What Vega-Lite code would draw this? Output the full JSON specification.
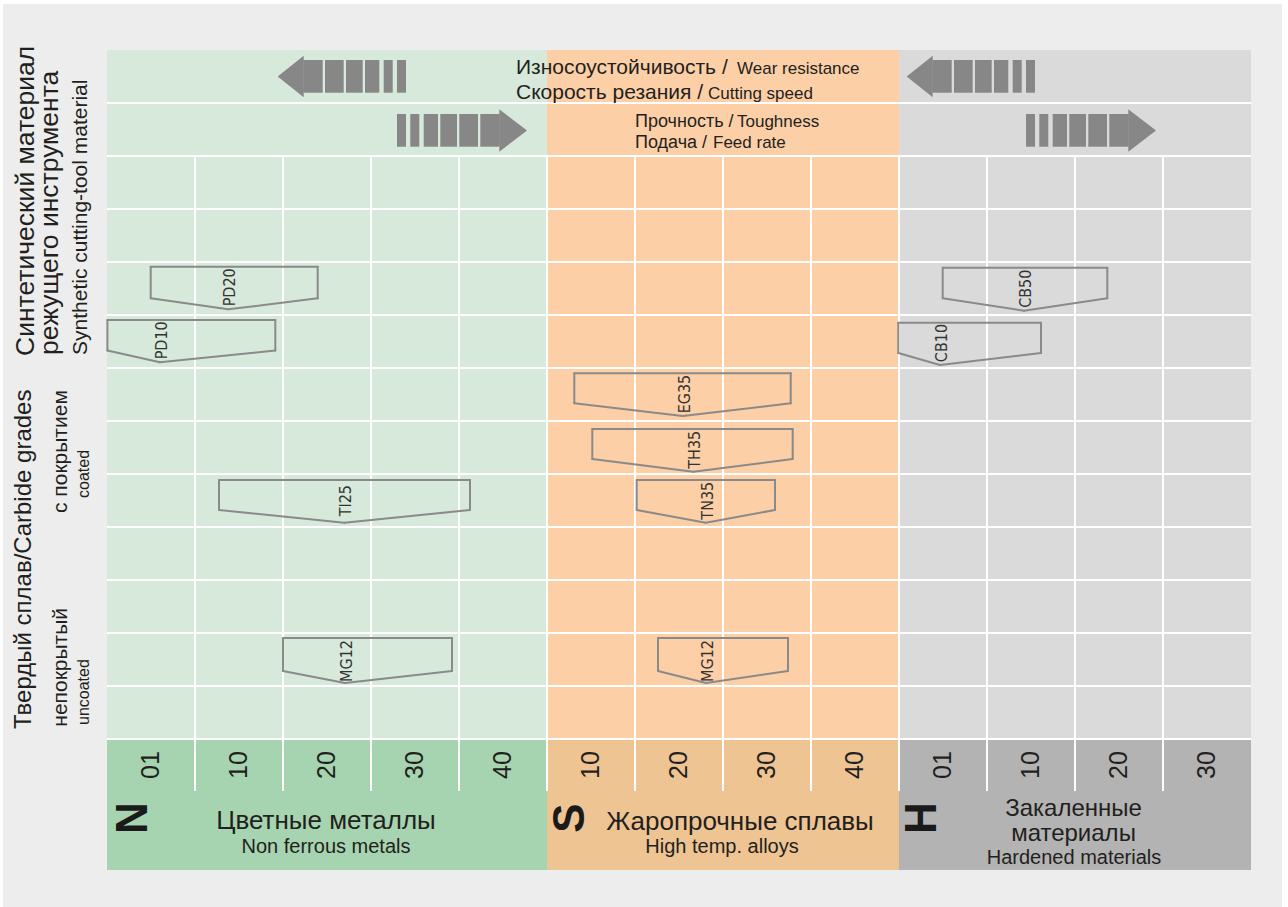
{
  "$schema": "https://vega.github.io/schema/vega-lite/v6.json",
  "width": 1288,
  "height": 907,
  "autosize": {"type": "none"},
  "padding": 0,
  "background": "#ffffff",
  "config": {"view": {"stroke": null}},
  "datasets": {
    "zones": [
      {"zone": "N area", "x": 0, "x2": 5, "y": 0, "y2": 13},
      {"zone": "S area", "x": 5, "x2": 9, "y": 0, "y2": 13},
      {"zone": "H area", "x": 9, "x2": 13, "y": 0, "y2": 13},
      {"zone": "N band", "x": 0, "x2": 5, "y": 13, "y2": 15.4717},
      {"zone": "S band", "x": 5, "x2": 9, "y": 13, "y2": 15.4717},
      {"zone": "H band", "x": 9, "x2": 13, "y": 13, "y2": 15.4717}
    ],
    "hlines": [{"v": 1}, {"v": 2}, {"v": 3}, {"v": 4}, {"v": 5}, {"v": 6}, {"v": 7}, {"v": 8}, {"v": 9}, {"v": 10}, {"v": 11}, {"v": 12}, {"v": 13}],
    "vlines": [{"u": 1}, {"u": 2}, {"u": 3}, {"u": 4}, {"u": 5}, {"u": 6}, {"u": 7}, {"u": 8}, {"u": 9}, {"u": 10}, {"u": 11}, {"u": 12}],
    "arrowBars": [
      {"arrow": "NL", "x": 2.2302, "x2": 2.4511, "y": 0.1887, "y2": 0.8057},
      {"arrow": "NL", "x": 2.4773, "x2": 2.6898, "y": 0.1887, "y2": 0.8057},
      {"arrow": "NL", "x": 2.7159, "x2": 2.9057, "y": 0.1887, "y2": 0.8057},
      {"arrow": "NL", "x": 2.9318, "x2": 3.0943, "y": 0.1887, "y2": 0.8057},
      {"arrow": "NL", "x": 3.1443, "x2": 3.2466, "y": 0.1887, "y2": 0.8057},
      {"arrow": "NL", "x": 3.2955, "x2": 3.3977, "y": 0.1887, "y2": 0.8057},
      {"arrow": "HL", "x": 9.378, "x2": 9.5989, "y": 0.1887, "y2": 0.8057},
      {"arrow": "HL", "x": 9.625, "x2": 9.8375, "y": 0.1887, "y2": 0.8057},
      {"arrow": "HL", "x": 9.8636, "x2": 10.0534, "y": 0.1887, "y2": 0.8057},
      {"arrow": "HL", "x": 10.0795, "x2": 10.242, "y": 0.1887, "y2": 0.8057},
      {"arrow": "HL", "x": 10.292, "x2": 10.3943, "y": 0.1887, "y2": 0.8057},
      {"arrow": "HL", "x": 10.4432, "x2": 10.5455, "y": 0.1887, "y2": 0.8057},
      {"arrow": "NR", "x": 3.2955, "x2": 3.3977, "y": 1.208, "y2": 1.825},
      {"arrow": "NR", "x": 3.4466, "x2": 3.5489, "y": 1.208, "y2": 1.825},
      {"arrow": "NR", "x": 3.5989, "x2": 3.7614, "y": 1.208, "y2": 1.825},
      {"arrow": "NR", "x": 3.7875, "x2": 3.9773, "y": 1.208, "y2": 1.825},
      {"arrow": "NR", "x": 4.0034, "x2": 4.2159, "y": 1.208, "y2": 1.825},
      {"arrow": "NR", "x": 4.2421, "x2": 4.463, "y": 1.208, "y2": 1.825},
      {"arrow": "HR", "x": 10.4432, "x2": 10.5455, "y": 1.208, "y2": 1.825},
      {"arrow": "HR", "x": 10.5943, "x2": 10.6966, "y": 1.208, "y2": 1.825},
      {"arrow": "HR", "x": 10.7466, "x2": 10.9091, "y": 1.208, "y2": 1.825},
      {"arrow": "HR", "x": 10.9352, "x2": 11.125, "y": 1.208, "y2": 1.825},
      {"arrow": "HR", "x": 11.1511, "x2": 11.3636, "y": 1.208, "y2": 1.825},
      {"arrow": "HR", "x": 11.3898, "x2": 11.6107, "y": 1.208, "y2": 1.825}
    ],
    "arrowHeads": [
      {"arrow": "NL", "x": 1.9398, "y": 0.5, "y2": 0.5},
      {"arrow": "NL", "x": 2.2352, "y": 0.1075, "y2": 0.8925},
      {"arrow": "HL", "x": 9.0875, "y": 0.5, "y2": 0.5},
      {"arrow": "HL", "x": 9.383, "y": 0.1075, "y2": 0.8925},
      {"arrow": "NR", "x": 4.458, "y": 1.119, "y2": 1.919},
      {"arrow": "NR", "x": 4.7728, "y": 1.519, "y2": 1.519},
      {"arrow": "HR", "x": 11.6057, "y": 1.119, "y2": 1.919},
      {"arrow": "HR", "x": 11.9205, "y": 1.519, "y2": 1.519}
    ],
    "grades": [
      {"grade": "PD20", "x1": 0.4966, "x2": 2.3943, "xp": 1.3784, "top": 4.0887, "shoulder": 4.6849, "tip": 4.8925},
      {"grade": "PD10", "x1": 0.0045, "x2": 1.9125, "xp": 0.6023, "top": 5.0943, "shoulder": 5.6698, "tip": 5.8925},
      {"grade": "CB50", "x1": 9.4966, "x2": 11.367, "xp": 10.4205, "top": 4.1075, "shoulder": 4.6849, "tip": 4.9189},
      {"grade": "CB10", "x1": 8.992, "x2": 10.6136, "xp": 9.4659, "top": 5.1453, "shoulder": 5.717, "tip": 5.9434},
      {"grade": "EG35", "x1": 5.3102, "x2": 7.7693, "xp": 6.542, "top": 6.1, "shoulder": 6.666, "tip": 6.9057},
      {"grade": "TH35", "x1": 5.5148, "x2": 7.792, "xp": 6.6625, "top": 7.1509, "shoulder": 7.717, "tip": 7.9566},
      {"grade": "TN35", "x1": 6.0193, "x2": 7.5909, "xp": 6.8034, "top": 8.1132, "shoulder": 8.6792, "tip": 8.9189},
      {"grade": "TI25", "x1": 1.2727, "x2": 4.125, "xp": 2.6966, "top": 8.1132, "shoulder": 8.6792, "tip": 8.9189},
      {"grade": "MG12", "x1": 2.0, "x2": 3.9205, "xp": 2.7045, "top": 11.0943, "shoulder": 11.717, "tip": 11.9434},
      {"grade": "MG12", "x1": 6.2614, "x2": 7.7386, "xp": 6.8068, "top": 11.0943, "shoulder": 11.717, "tip": 11.9434}
    ],
    "texts": [
      {"role": "leftBig", "t": "Синтетический материал", "x": -0.8295, "y": 5.7736},
      {"role": "leftBig", "t": "режущего инструмента", "x": -0.5568, "y": 5.7547},
      {"role": "leftCarb", "t": "Твердый сплав/Carbide grades", "x": -0.8636, "y": 12.8113},
      {"role": "leftMid", "t": "Synthetic cutting-tool material", "x": -0.2273, "y": 5.7547},
      {"role": "leftMid", "t": "с покрытием", "x": -0.4545, "y": 8.7358},
      {"role": "leftMid", "t": "непокрытый", "x": -0.4545, "y": 12.7679},
      {"role": "leftSmall", "t": "coated", "x": -0.2045, "y": 8.4528},
      {"role": "leftSmall", "t": "uncoated", "x": -0.2045, "y": 12.7358},
      {"role": "topBig", "t": "Износоустойчивость /", "x": 4.6477, "y": 0.4528},
      {"role": "topBig", "t": "Скорость резания /", "x": 4.6477, "y": 0.9245},
      {"role": "topMid", "t": "Прочность /", "x": 6.0, "y": 1.4528},
      {"role": "topMid", "t": "Подача /", "x": 6.0, "y": 1.8491},
      {"role": "topEn", "t": "Wear resistance", "x": 7.1591, "y": 0.4528},
      {"role": "topEn", "t": "Cutting speed", "x": 6.8295, "y": 0.9245},
      {"role": "topEn", "t": "Toughness", "x": 7.1591, "y": 1.4528},
      {"role": "topEn", "t": "Feed rate", "x": 6.8864, "y": 1.8491},
      {"role": "tick", "t": "01", "x": 0.5, "y": 13.49},
      {"role": "tick", "t": "10", "x": 1.5, "y": 13.49},
      {"role": "tick", "t": "20", "x": 2.5, "y": 13.49},
      {"role": "tick", "t": "30", "x": 3.5, "y": 13.49},
      {"role": "tick", "t": "40", "x": 4.5, "y": 13.49},
      {"role": "tick", "t": "10", "x": 5.5, "y": 13.49},
      {"role": "tick", "t": "20", "x": 6.5, "y": 13.49},
      {"role": "tick", "t": "30", "x": 7.5, "y": 13.49},
      {"role": "tick", "t": "40", "x": 8.5, "y": 13.49},
      {"role": "tick", "t": "01", "x": 9.5, "y": 13.49},
      {"role": "tick", "t": "10", "x": 10.5, "y": 13.49},
      {"role": "tick", "t": "20", "x": 11.5, "y": 13.49},
      {"role": "tick", "t": "30", "x": 12.5, "y": 13.49},
      {"role": "letter", "t": "N", "x": 0.3125, "y": 14.4906},
      {"role": "letter", "t": "S", "x": 5.2761, "y": 14.4906},
      {"role": "letter", "t": "H", "x": 9.2727, "y": 14.4906},
      {"role": "groupRu", "t": "Цветные металлы", "x": 2.4886, "y": 14.6981},
      {"role": "groupRu", "t": "Жаропрочные сплавы", "x": 7.1932, "y": 14.717},
      {"role": "groupRuH", "t": "Закаленные", "x": 10.983, "y": 14.4528},
      {"role": "groupRuH", "t": "материалы", "x": 10.983, "y": 14.9245},
      {"role": "groupEn", "t": "Non ferrous metals", "x": 2.4886, "y": 15.1453},
      {"role": "groupEn", "t": "High temp. alloys", "x": 6.9886, "y": 15.151},
      {"role": "groupEn", "t": "Hardened materials", "x": 10.9886, "y": 15.3585}
    ]
  },
  "layer": [
    {
      "data": {"values": [{"x": -1.1818, "x2": 13.3523, "y": -0.8679, "y2": 16.1698}]},
      "mark": {"type": "rect", "color": "#ededed"},
      "encoding": {
        "x": {"field": "x", "type": "quantitative", "scale": {"domain": [-1.215909, 13.420455], "nice": false, "zero": false}, "axis": null},
        "x2": {"field": "x2"},
        "y": {"field": "y", "type": "quantitative", "scale": {"domain": [-0.943396, 16.169811], "nice": false, "zero": false, "reverse": true}, "axis": null},
        "y2": {"field": "y2"}
      }
    },
    {
      "data": {"name": "zones"},
      "mark": {"type": "rect"},
      "encoding": {
        "x": {"field": "x", "type": "quantitative", "scale": {"domain": [-1.215909, 13.420455], "nice": false, "zero": false}, "axis": null},
        "x2": {"field": "x2"},
        "y": {"field": "y", "type": "quantitative", "scale": {"domain": [-0.943396, 16.169811], "nice": false, "zero": false, "reverse": true}, "axis": null},
        "y2": {"field": "y2"},
        "color": {"field": "zone", "type": "nominal", "legend": null, "scale": {"domain": ["N area", "S area", "H area", "N band", "S band", "H band"], "range": ["#d7e9da", "#fccfa7", "#dadada", "#a6d4b0", "#eec492", "#b3b3b3"]}}
      }
    },
    {
      "data": {"name": "hlines"},
      "mark": {"type": "rule", "color": "#ffffff", "strokeWidth": 2},
      "encoding": {
        "x": {"datum": 0, "type": "quantitative", "scale": {"domain": [-1.215909, 13.420455], "nice": false, "zero": false}, "axis": null},
        "x2": {"datum": 13},
        "y": {"field": "v", "type": "quantitative", "scale": {"domain": [-0.943396, 16.169811], "nice": false, "zero": false, "reverse": true}, "axis": null}
      }
    },
    {
      "data": {"name": "vlines"},
      "mark": {"type": "rule", "color": "#ffffff", "strokeWidth": 2},
      "encoding": {
        "x": {"field": "u", "type": "quantitative", "scale": {"domain": [-1.215909, 13.420455], "nice": false, "zero": false}, "axis": null},
        "y": {"datum": 2, "type": "quantitative", "scale": {"domain": [-0.943396, 16.169811], "nice": false, "zero": false, "reverse": true}, "axis": null},
        "y2": {"datum": 13.98}
      }
    },
    {
      "data": {"name": "arrowBars"},
      "mark": {"type": "rect", "color": "#878787"},
      "encoding": {
        "x": {"field": "x", "type": "quantitative", "scale": {"domain": [-1.215909, 13.420455], "nice": false, "zero": false}, "axis": null},
        "x2": {"field": "x2"},
        "y": {"field": "y", "type": "quantitative", "scale": {"domain": [-0.943396, 16.169811], "nice": false, "zero": false, "reverse": true}, "axis": null},
        "y2": {"field": "y2"}
      }
    },
    {
      "data": {"name": "arrowHeads"},
      "mark": {"type": "area", "color": "#878787", "orient": "vertical"},
      "encoding": {
        "x": {"field": "x", "type": "quantitative", "scale": {"domain": [-1.215909, 13.420455], "nice": false, "zero": false}, "axis": null},
        "y": {"field": "y", "type": "quantitative", "scale": {"domain": [-0.943396, 16.169811], "nice": false, "zero": false, "reverse": true}, "axis": null},
        "y2": {"field": "y2"},
        "detail": {"field": "arrow", "type": "nominal"}
      }
    },
    {
      "data": {"name": "grades"},
      "mark": {"type": "rule", "color": "#8a8a8a", "strokeWidth": 2, "strokeCap": "round"},
      "encoding": {
        "x": {"field": "x1", "type": "quantitative", "scale": {"domain": [-1.215909, 13.420455], "nice": false, "zero": false}, "axis": null},
        "x2": {"field": "x2"},
        "y": {"field": "top", "type": "quantitative", "scale": {"domain": [-0.943396, 16.169811], "nice": false, "zero": false, "reverse": true}, "axis": null},
        "y2": {"field": "top"}
      }
    },
    {
      "data": {"name": "grades"},
      "mark": {"type": "rule", "color": "#8a8a8a", "strokeWidth": 2, "strokeCap": "round"},
      "encoding": {
        "x": {"field": "x1", "type": "quantitative", "scale": {"domain": [-1.215909, 13.420455], "nice": false, "zero": false}, "axis": null},
        "y": {"field": "top", "type": "quantitative", "scale": {"domain": [-0.943396, 16.169811], "nice": false, "zero": false, "reverse": true}, "axis": null},
        "y2": {"field": "shoulder"}
      }
    },
    {
      "data": {"name": "grades"},
      "mark": {"type": "rule", "color": "#8a8a8a", "strokeWidth": 2, "strokeCap": "round"},
      "encoding": {
        "x": {"field": "x2", "type": "quantitative", "scale": {"domain": [-1.215909, 13.420455], "nice": false, "zero": false}, "axis": null},
        "y": {"field": "top", "type": "quantitative", "scale": {"domain": [-0.943396, 16.169811], "nice": false, "zero": false, "reverse": true}, "axis": null},
        "y2": {"field": "shoulder"}
      }
    },
    {
      "data": {"name": "grades"},
      "mark": {"type": "rule", "color": "#8a8a8a", "strokeWidth": 2, "strokeCap": "round"},
      "encoding": {
        "x": {"field": "x1", "type": "quantitative", "scale": {"domain": [-1.215909, 13.420455], "nice": false, "zero": false}, "axis": null},
        "x2": {"field": "xp"},
        "y": {"field": "shoulder", "type": "quantitative", "scale": {"domain": [-0.943396, 16.169811], "nice": false, "zero": false, "reverse": true}, "axis": null},
        "y2": {"field": "tip"}
      }
    },
    {
      "data": {"name": "grades"},
      "mark": {"type": "rule", "color": "#8a8a8a", "strokeWidth": 2, "strokeCap": "round"},
      "encoding": {
        "x": {"field": "x2", "type": "quantitative", "scale": {"domain": [-1.215909, 13.420455], "nice": false, "zero": false}, "axis": null},
        "x2": {"field": "xp"},
        "y": {"field": "shoulder", "type": "quantitative", "scale": {"domain": [-0.943396, 16.169811], "nice": false, "zero": false, "reverse": true}, "axis": null},
        "y2": {"field": "tip"}
      }
    },
    {
      "data": {"name": "grades"},
      "mark": {"type": "text", "angle": 270, "align": "center", "baseline": "middle", "dx": 22, "dy": 2, "font": "Liberation Sans Narrow, Arial Narrow, DejaVu Sans Condensed, sans-serif", "fontSize": 16, "color": "#333333"},
      "encoding": {
        "x": {"field": "xp", "type": "quantitative", "scale": {"domain": [-1.215909, 13.420455], "nice": false, "zero": false}, "axis": null},
        "y": {"field": "tip", "type": "quantitative", "scale": {"domain": [-0.943396, 16.169811], "nice": false, "zero": false, "reverse": true}, "axis": null},
        "text": {"field": "grade"}
      }
    },
    {
      "data": {"name": "texts"},
      "transform": [{"filter": "datum.role === 'leftBig'"}],
      "mark": {"type": "text", "angle": 270, "align": "left", "baseline": "alphabetic", "font": "Liberation Sans", "fontSize": 26.5, "color": "#231f20"},
      "encoding": {
        "x": {"field": "x", "type": "quantitative", "scale": {"domain": [-1.215909, 13.420455], "nice": false, "zero": false}, "axis": null},
        "y": {"field": "y", "type": "quantitative", "scale": {"domain": [-0.943396, 16.169811], "nice": false, "zero": false, "reverse": true}, "axis": null},
        "text": {"field": "t"}
      }
    },
    {
      "data": {"name": "texts"},
      "transform": [{"filter": "datum.role === 'leftCarb'"}],
      "mark": {"type": "text", "angle": 270, "align": "left", "baseline": "alphabetic", "font": "Liberation Sans", "fontSize": 24, "color": "#231f20"},
      "encoding": {
        "x": {"field": "x", "type": "quantitative", "scale": {"domain": [-1.215909, 13.420455], "nice": false, "zero": false}, "axis": null},
        "y": {"field": "y", "type": "quantitative", "scale": {"domain": [-0.943396, 16.169811], "nice": false, "zero": false, "reverse": true}, "axis": null},
        "text": {"field": "t"}
      }
    },
    {
      "data": {"name": "texts"},
      "transform": [{"filter": "datum.role === 'leftMid'"}],
      "mark": {"type": "text", "angle": 270, "align": "left", "baseline": "alphabetic", "font": "Liberation Sans", "fontSize": 21, "color": "#231f20"},
      "encoding": {
        "x": {"field": "x", "type": "quantitative", "scale": {"domain": [-1.215909, 13.420455], "nice": false, "zero": false}, "axis": null},
        "y": {"field": "y", "type": "quantitative", "scale": {"domain": [-0.943396, 16.169811], "nice": false, "zero": false, "reverse": true}, "axis": null},
        "text": {"field": "t"}
      }
    },
    {
      "data": {"name": "texts"},
      "transform": [{"filter": "datum.role === 'leftSmall'"}],
      "mark": {"type": "text", "angle": 270, "align": "left", "baseline": "alphabetic", "font": "Liberation Sans", "fontSize": 16, "color": "#231f20"},
      "encoding": {
        "x": {"field": "x", "type": "quantitative", "scale": {"domain": [-1.215909, 13.420455], "nice": false, "zero": false}, "axis": null},
        "y": {"field": "y", "type": "quantitative", "scale": {"domain": [-0.943396, 16.169811], "nice": false, "zero": false, "reverse": true}, "axis": null},
        "text": {"field": "t"}
      }
    },
    {
      "data": {"name": "texts"},
      "transform": [{"filter": "datum.role === 'topBig'"}],
      "mark": {"type": "text", "align": "left", "baseline": "alphabetic", "font": "Liberation Sans", "fontSize": 21, "color": "#231f20"},
      "encoding": {
        "x": {"field": "x", "type": "quantitative", "scale": {"domain": [-1.215909, 13.420455], "nice": false, "zero": false}, "axis": null},
        "y": {"field": "y", "type": "quantitative", "scale": {"domain": [-0.943396, 16.169811], "nice": false, "zero": false, "reverse": true}, "axis": null},
        "text": {"field": "t"}
      }
    },
    {
      "data": {"name": "texts"},
      "transform": [{"filter": "datum.role === 'topMid'"}],
      "mark": {"type": "text", "align": "left", "baseline": "alphabetic", "font": "Liberation Sans", "fontSize": 18, "color": "#231f20"},
      "encoding": {
        "x": {"field": "x", "type": "quantitative", "scale": {"domain": [-1.215909, 13.420455], "nice": false, "zero": false}, "axis": null},
        "y": {"field": "y", "type": "quantitative", "scale": {"domain": [-0.943396, 16.169811], "nice": false, "zero": false, "reverse": true}, "axis": null},
        "text": {"field": "t"}
      }
    },
    {
      "data": {"name": "texts"},
      "transform": [{"filter": "datum.role === 'topEn'"}],
      "mark": {"type": "text", "align": "left", "baseline": "alphabetic", "font": "Liberation Sans", "fontSize": 17, "color": "#231f20"},
      "encoding": {
        "x": {"field": "x", "type": "quantitative", "scale": {"domain": [-1.215909, 13.420455], "nice": false, "zero": false}, "axis": null},
        "y": {"field": "y", "type": "quantitative", "scale": {"domain": [-0.943396, 16.169811], "nice": false, "zero": false, "reverse": true}, "axis": null},
        "text": {"field": "t"}
      }
    },
    {
      "data": {"name": "texts"},
      "transform": [{"filter": "datum.role === 'tick'"}],
      "mark": {"type": "text", "angle": 270, "align": "center", "baseline": "middle", "font": "Liberation Sans", "fontSize": 25, "color": "#231f20"},
      "encoding": {
        "x": {"field": "x", "type": "quantitative", "scale": {"domain": [-1.215909, 13.420455], "nice": false, "zero": false}, "axis": null},
        "y": {"field": "y", "type": "quantitative", "scale": {"domain": [-0.943396, 16.169811], "nice": false, "zero": false, "reverse": true}, "axis": null},
        "text": {"field": "t"}
      }
    },
    {
      "data": {"name": "texts"},
      "transform": [{"filter": "datum.role === 'letter'"}],
      "mark": {"type": "text", "angle": 270, "align": "center", "baseline": "middle", "font": "Liberation Sans", "fontWeight": "bold", "fontSize": 44, "color": "#1a1a1a"},
      "encoding": {
        "x": {"field": "x", "type": "quantitative", "scale": {"domain": [-1.215909, 13.420455], "nice": false, "zero": false}, "axis": null},
        "y": {"field": "y", "type": "quantitative", "scale": {"domain": [-0.943396, 16.169811], "nice": false, "zero": false, "reverse": true}, "axis": null},
        "text": {"field": "t"}
      }
    },
    {
      "data": {"name": "texts"},
      "transform": [{"filter": "datum.role === 'groupRu'"}],
      "mark": {"type": "text", "align": "center", "baseline": "alphabetic", "font": "Liberation Sans", "fontSize": 26, "color": "#231f20"},
      "encoding": {
        "x": {"field": "x", "type": "quantitative", "scale": {"domain": [-1.215909, 13.420455], "nice": false, "zero": false}, "axis": null},
        "y": {"field": "y", "type": "quantitative", "scale": {"domain": [-0.943396, 16.169811], "nice": false, "zero": false, "reverse": true}, "axis": null},
        "text": {"field": "t"}
      }
    },
    {
      "data": {"name": "texts"},
      "transform": [{"filter": "datum.role === 'groupRuH'"}],
      "mark": {"type": "text", "align": "center", "baseline": "alphabetic", "font": "Liberation Sans", "fontSize": 24, "color": "#231f20"},
      "encoding": {
        "x": {"field": "x", "type": "quantitative", "scale": {"domain": [-1.215909, 13.420455], "nice": false, "zero": false}, "axis": null},
        "y": {"field": "y", "type": "quantitative", "scale": {"domain": [-0.943396, 16.169811], "nice": false, "zero": false, "reverse": true}, "axis": null},
        "text": {"field": "t"}
      }
    },
    {
      "data": {"name": "texts"},
      "transform": [{"filter": "datum.role === 'groupEn'"}],
      "mark": {"type": "text", "align": "center", "baseline": "alphabetic", "font": "Liberation Sans", "fontSize": 20, "color": "#231f20"},
      "encoding": {
        "x": {"field": "x", "type": "quantitative", "scale": {"domain": [-1.215909, 13.420455], "nice": false, "zero": false}, "axis": null},
        "y": {"field": "y", "type": "quantitative", "scale": {"domain": [-0.943396, 16.169811], "nice": false, "zero": false, "reverse": true}, "axis": null},
        "text": {"field": "t"}
      }
    }
  ]
}
